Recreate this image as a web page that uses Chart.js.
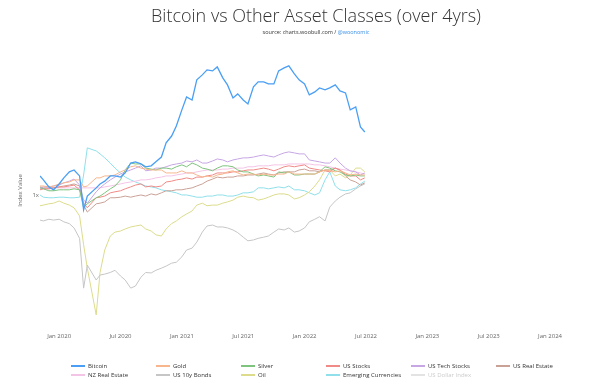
<!DOCTYPE html>
<html>
<head>
<meta charset="utf-8">
<script src="https://cdn.jsdelivr.net/npm/chart.js@4.4.1/dist/chart.umd.min.js"></script>
<style>
  html, body { margin: 0; padding: 0; background: #fff; }
  #wrap { position: relative; width: 600px; height: 391px; }
  #legend {
    position: absolute; left: 71px; top: 361px;
    display: grid; grid-template-columns: repeat(6, 85px);
    font: 6px 'Open Sans', sans-serif; color: #333;
  }
  .item { display: flex; align-items: center; height: 9.5px; white-space: nowrap; }
  .swatch { display: inline-block; width: 14px; height: 2px; margin-right: 3px; flex: none; }
  .item.off { color: #ccc; }
</style>
</head>
<body>
<div id="wrap">
  <canvas id="chart" width="600" height="391"></canvas>
  <div id="legend"></div>
</div>
<script>
// sample dates (roughly twice a month), values are index levels
const dates = [
  '2019-11-05','2019-11-15','2019-12-01','2019-12-15','2020-01-01','2020-01-15','2020-02-01','2020-02-15',
  '2020-03-01','2020-03-13','2020-03-24','2020-04-20','2020-05-01','2020-05-15','2020-06-01','2020-06-15',
  '2020-07-01','2020-07-15','2020-08-01','2020-08-15','2020-09-01','2020-09-15','2020-10-01','2020-10-15',
  '2020-11-01','2020-11-15','2020-12-01','2020-12-15','2021-01-01','2021-01-15','2021-02-01','2021-02-15',
  '2021-03-01','2021-03-15','2021-04-01','2021-04-15','2021-05-01','2021-05-15','2021-06-01','2021-06-15',
  '2021-07-01','2021-07-15','2021-08-01','2021-08-15','2021-09-01','2021-09-15','2021-10-01','2021-10-15',
  '2021-11-01','2021-11-15','2021-12-01','2021-12-15','2022-01-01','2022-01-15','2022-02-01','2022-02-15',
  '2022-03-01','2022-03-15','2022-04-01','2022-04-15','2022-05-01','2022-05-15','2022-06-01','2022-06-15',
  '2022-06-28'
];

const bitcoin = [
  1.42,1.32,1.16,1.10,1.225,1.37,1.53,1.585,1.42,0.76,
  0.98,1.14,1.225,1.29,1.42,1.42,1.39,1.50,1.80,1.84,
  1.77,1.68,1.71,1.84,2.01,2.61,2.96,3.56,4.79,6.08,
  5.75,8.32,9.12,10.0,9.82,10.57,8.63,7.59,5.97,6.43,
  5.75,5.35,7.31,8.02,8.02,7.73,7.73,9.82,10.38,10.76,
  9.29,8.32,7.73,6.31,6.67,7.18,6.92,7.18,7.59,6.79,
  6.55,4.79,5.06,3.50,3.19
];
const gold = [
  1.18,1.18,1.16,1.18,1.225,1.25,1.27,1.32,1.32,1.16,
  1.18,1.37,1.37,1.42,1.42,1.445,1.53,1.585,1.68,1.71,
  1.64,1.61,1.585,1.585,1.585,1.50,1.50,1.50,1.56,1.50,
  1.50,1.445,1.39,1.42,1.39,1.445,1.47,1.53,1.56,1.50,
  1.445,1.47,1.47,1.445,1.47,1.445,1.445,1.47,1.47,1.53,
  1.47,1.47,1.47,1.47,1.47,1.53,1.585,1.56,1.53,1.56,
  1.50,1.445,1.47,1.445,1.445
];
const silver = [
  1.14,1.12,1.08,1.08,1.10,1.10,1.10,1.12,1.10,0.79,
  0.85,0.95,0.98,1.04,1.12,1.18,1.32,1.585,1.80,1.77,
  1.77,1.64,1.61,1.585,1.64,1.64,1.61,1.68,1.74,1.68,
  1.80,1.74,1.64,1.61,1.56,1.64,1.71,1.71,1.68,1.585,
  1.53,1.53,1.47,1.42,1.445,1.42,1.39,1.53,1.50,1.53,
  1.445,1.445,1.47,1.47,1.47,1.53,1.68,1.64,1.56,1.53,
  1.445,1.42,1.445,1.42,1.42
];
const usStocks = [
  1.10,1.12,1.12,1.14,1.16,1.16,1.18,1.20,1.10,0.86,
  0.79,0.95,0.96,0.98,1.04,1.06,1.08,1.12,1.16,1.20,
  1.225,1.16,1.18,1.16,1.18,1.27,1.29,1.32,1.34,1.37,
  1.34,1.39,1.39,1.42,1.445,1.50,1.50,1.50,1.53,1.53,
  1.56,1.585,1.585,1.61,1.64,1.61,1.56,1.61,1.68,1.71,
  1.68,1.71,1.74,1.64,1.61,1.585,1.56,1.53,1.64,1.585,
  1.47,1.42,1.42,1.32,1.37
];
const usTechStocks = [
  1.14,1.16,1.16,1.18,1.20,1.25,1.29,1.34,1.20,0.91,
  0.86,1.06,1.14,1.225,1.32,1.39,1.47,1.53,1.585,1.64,
  1.71,1.56,1.585,1.64,1.64,1.68,1.74,1.77,1.80,1.87,
  1.84,1.905,1.80,1.80,1.87,1.94,1.905,1.84,1.905,1.94,
  1.98,1.98,2.01,2.05,2.09,2.05,2.01,2.09,2.17,2.21,
  2.17,2.13,2.13,1.905,1.87,1.84,1.80,1.80,1.98,1.80,
  1.64,1.56,1.53,1.445,1.50
];
const usRealEstate = [
  1.16,1.14,1.14,1.14,1.16,1.18,1.20,1.225,1.18,0.83,
  0.73,0.85,0.86,0.88,0.95,0.95,0.96,0.98,0.96,0.98,
  1.00,0.98,1.02,1.00,1.04,1.08,1.08,1.10,1.10,1.12,
  1.14,1.18,1.225,1.29,1.34,1.39,1.37,1.39,1.39,1.42,
  1.42,1.445,1.445,1.47,1.50,1.47,1.445,1.50,1.53,1.53,
  1.53,1.585,1.61,1.56,1.56,1.53,1.585,1.585,1.64,1.585,
  1.42,1.32,1.27,1.20,1.25
];
const nzRealEstate = [
  1.12,1.12,1.12,1.14,1.14,1.14,1.14,1.14,1.14,1.14,
  1.14,1.14,1.14,1.16,1.18,1.20,1.225,1.25,1.27,1.29,
  1.32,1.32,1.34,1.37,1.39,1.42,1.42,1.445,1.47,1.50,
  1.50,1.53,1.56,1.585,1.585,1.585,1.61,1.61,1.64,1.64,
  1.64,1.68,1.68,1.71,1.71,1.71,1.74,1.74,1.74,1.77,
  1.77,1.77,1.77,1.77,1.74,1.74,1.71,1.68,1.64,1.61,
  1.585,1.56,1.53,1.50,1.47
];
const us10yBonds = [
  0.63,0.62,0.64,0.63,0.64,0.61,0.59,0.545,0.45,0.18,
  0.275,0.209,0.229,0.233,0.24,0.25,0.225,0.209,0.18,0.187,
  0.22,0.24,0.238,0.25,0.26,0.27,0.285,0.29,0.32,0.363,
  0.376,0.42,0.505,0.565,0.575,0.555,0.555,0.545,0.525,0.50,
  0.46,0.43,0.437,0.45,0.46,0.47,0.505,0.535,0.525,0.545,
  0.505,0.515,0.545,0.61,0.64,0.67,0.62,0.80,0.895,0.96,
  1.02,1.04,1.12,1.18,1.225
];
const oil = [
  0.82,0.83,0.85,0.86,0.895,0.86,0.83,0.79,0.68,0.40,
  0.26,0.11,0.24,0.363,0.47,0.505,0.515,0.535,0.555,0.565,
  0.575,0.535,0.515,0.48,0.47,0.535,0.59,0.62,0.67,0.705,
  0.745,0.83,0.86,0.82,0.83,0.83,0.86,0.88,0.91,0.96,
  0.98,0.96,0.95,0.91,0.93,0.96,1.00,1.02,1.02,1.00,
  0.93,0.95,1.00,1.06,1.18,1.32,1.585,1.585,1.42,1.47,
  1.37,1.445,1.64,1.64,1.53
];
const emergingCurrencies = [
  1.00,0.96,0.95,0.95,0.96,0.96,0.95,0.95,0.96,1.445,
  2.38,2.25,2.13,1.98,1.80,1.64,1.50,1.39,1.32,1.27,
  1.225,1.18,1.16,1.14,1.10,1.08,1.06,1.04,1.00,1.00,
  0.98,0.96,0.96,0.98,0.98,1.00,1.00,0.98,0.98,1.00,
  1.04,1.04,1.06,1.14,1.14,1.12,1.14,1.16,1.14,1.18,
  1.10,1.10,1.08,1.04,1.00,1.04,1.32,1.53,1.18,1.10,
  1.08,1.10,1.14,1.225,1.29
];
// hidden in the original (legend greyed out), its line cannot be read
const usDollarIndex = [];

const seriesNames = ['Bitcoin','Gold','Silver','US Stocks','US Tech Stocks','US Real Estate',
  'NZ Real Estate','US 10y Bonds','Oil','Emerging Currencies','US Dollar Index'];
const seriesValues = [bitcoin, gold, silver, usStocks, usTechStocks, usRealEstate,
  nzRealEstate, us10yBonds, oil, emergingCurrencies, usDollarIndex];
const seriesColors = ['#4a9ff5','#f7b68c','#7ec47e','#f08a86','#c7a6e4','#c9a197',
  '#f4c4e6','#c6c6c6','#dcdc8c','#8fe0ea','#cfe3f0'];
const hiddenSeries = ['US Dollar Index'];

const tickMonths = [0, 6, 12, 18, 24, 30, 36, 42, 48];
const tickLabels = ['Jan 2020','Jul 2020','Jan 2021','Jul 2021','Jan 2022','Jul 2022','Jan 2023','Jul 2023','Jan 2024'];

// months since Jan 2020
function toMonths(s) {
  const [y, m, d] = s.split('-').map(Number);
  return (y - 2020) * 12 + (m - 1) + (d - 1) / 30.44;
}
const xs = dates.map(toMonths);

Chart.defaults.font.family = "'Open Sans', sans-serif";

const sourceLine = {
  id: 'sourceLine',
  afterDraw(chart) {
    const { ctx, chartArea } = chart;
    const a = 'source: charts.woobull.com / ', b = '@woonomic';
    ctx.save();
    ctx.font = "5.5px 'Open Sans', sans-serif";
    ctx.textBaseline = 'middle';
    const wa = ctx.measureText(a).width, wb = ctx.measureText(b).width;
    const x = (chartArea.left + chartArea.right) / 2 - (wa + wb) / 2;
    ctx.fillStyle = '#333';
    ctx.fillText(a, x, 32);
    ctx.fillStyle = '#3a8ee6';
    ctx.fillText(b, x + wa, 32);
    ctx.restore();
  }
};

const chart = new Chart(document.getElementById('chart'), {
  type: 'line',
  data: {
    datasets: seriesNames.map((name, i) => ({
      label: name,
      data: seriesValues[i].map((v, j) => ({ x: xs[j], y: v })),
      borderColor: seriesColors[i],
      backgroundColor: seriesColors[i],
      borderWidth: i === 0 ? 1.3 : 1,
      pointRadius: 0,
      fill: false,
      tension: 0,
      hidden: hiddenSeries.includes(name),
    })),
  },
  options: {
    responsive: false,
    animation: false,
    layout: { padding: { top: 0, right: 8, bottom: 46, left: 0 } },
    plugins: {
      legend: { display: false },
      tooltip: { enabled: false },
      title: {
        display: true,
        fullSize: false,
        text: 'Bitcoin vs Other Asset Classes (over 4yrs)',
        color: '#333',
        font: { size: 18, weight: 300 },
        padding: { top: 6, bottom: 26.4 },
      },
    },
    scales: {
      x: {
        type: 'linear',
        min: -1.87,
        max: 52.1,
        grid: { display: false, drawTicks: false },
        border: { display: false },
        afterBuildTicks: (s) => { s.ticks = tickMonths.map((v) => ({ value: v })); },
        afterFit: (s) => { s.height = 18; },
        ticks: {
          autoSkip: false,
          maxRotation: 0,
          padding: 6,
          color: '#666',
          font: { size: 6 },
          callback: (v) => tickLabels[tickMonths.indexOf(v)],
        },
      },
      y: {
        type: 'logarithmic',
        min: 0.088,
        max: 13.4,
        grid: { display: false, drawTicks: false },
        border: { display: false },
        afterBuildTicks: (s) => { s.ticks = [{ value: 1 }]; },
        afterFit: (s) => { s.width = 40; },
        ticks: {
          padding: 1,
          color: '#666',
          font: { size: 6 },
          callback: (v) => (v === 1 ? '1x' : ''),
        },
        title: {
          display: true,
          text: 'Index Value',
          color: '#666',
          font: { size: 6 },
          padding: { top: 17, bottom: 0 },
        },
      },
    },
  },
  plugins: [sourceLine],
});

// legend laid out in fixed columns, like the original
const legendEl = document.getElementById('legend');
chart.data.datasets.forEach((ds, i) => {
  const item = document.createElement('div');
  const off = !chart.isDatasetVisible(i);
  item.className = 'item' + (off ? ' off' : '');
  const sw = document.createElement('span');
  sw.className = 'swatch';
  sw.style.background = off ? '#e3e3e3' : ds.borderColor;
  item.appendChild(sw);
  item.appendChild(document.createTextNode(ds.label));
  legendEl.appendChild(item);
});
</script>
</body>
</html>
